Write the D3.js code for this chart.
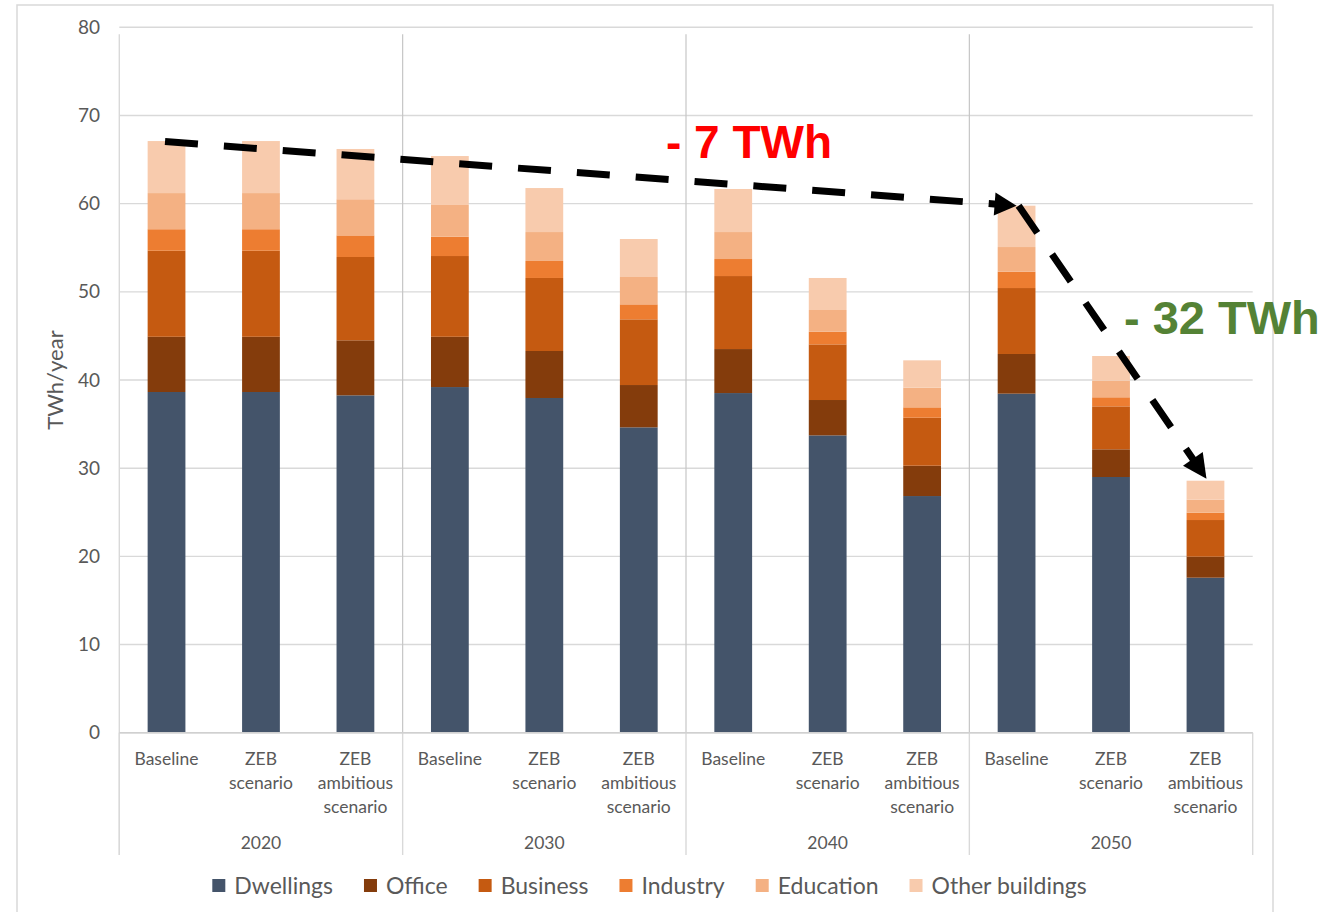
<!DOCTYPE html>
<html>
<head>
<meta charset="utf-8">
<script src="https://cdn.jsdelivr.net/npm/d3@7/dist/d3.min.js"></script>
<style>
  html, body { margin: 0; padding: 0; background: #fff; }
  svg { display: block; }
</style>
</head>
<body>
<svg id="chart" width="1322" height="912"></svg>
<script>
// ---------- DATA ----------
const years = ["2020", "2030", "2040", "2050"];
const scenarioLines = [["Baseline"], ["ZEB", "scenario"], ["ZEB", "ambitious", "scenario"]];
const seriesNames = ["Dwellings", "Office", "Business", "Industry", "Education", "Other buildings"];
const seriesColors = ["#44546a", "#843c0c", "#c55a11", "#ed7d31", "#f4b183", "#f8cbad"];

const dwellings = [38.64, 38.64, 38.26, 39.2, 37.96, 34.63, 38.52, 33.72, 26.84, 38.45, 29.0, 17.58];
const office    = [6.26, 6.26, 6.24, 5.7, 5.33, 4.8, 4.99, 4.01, 3.44, 4.5, 3.14, 2.38];
const business  = [9.76, 9.76, 9.45, 9.16, 8.28, 7.45, 8.28, 6.31, 5.44, 7.48, 4.87, 4.16];
const industry  = [2.44, 2.44, 2.45, 2.19, 1.93, 1.7, 1.93, 1.44, 1.18, 1.85, 1.03, 0.83];
const education = [4.1, 4.1, 4.1, 3.6, 3.28, 3.1, 3.06, 2.46, 2.23, 2.8, 1.88, 1.47];
const otherBldg = [5.9, 5.9, 5.7, 5.55, 4.99, 4.31, 4.88, 3.63, 3.1, 4.69, 2.8, 2.16];

const yTicks = [0, 10, 20, 30, 40, 50, 60, 70, 80];
const yTitle = "TWh/year";
const annot1 = "- 7 TWh";
const annot2 = "- 32 TWh";

// ---------- BUILD ----------
const seriesValues = [dwellings, office, business, industry, education, otherBldg];
const rows = dwellings.map((_, i) => {
  const r = { idx: i, year: years[Math.floor(i / 3)], scen: i % 3 };
  seriesNames.forEach((s, k) => r[s] = seriesValues[k][i]);
  return r;
});
const totals = rows.map(r => d3.sum(seriesNames, s => r[s]));

const svg = d3.select("#chart");
const plotL = 119.3, plotR = 1252.7, plotT = 27.3, plotB = 732.7;
const textColor = "#595959";
const font = "Lato, 'Open Sans', sans-serif";

// outer border
svg.append("rect").attr("x", 17).attr("y", 5).attr("width", 1256).attr("height", 940)
  .attr("fill", "#fff").attr("stroke", "#d9d9d9").attr("stroke-width", 1.5);

const y = d3.scaleLinear().domain([0, 80]).range([plotB, plotT]);
const x = d3.scaleBand().domain(d3.range(rows.length)).range([plotL, plotR])
  .paddingInner(0.6).paddingOuter(0.3);
const xg = d3.scaleBand().domain(years).range([plotL, plotR]);

// gridlines
svg.append("g").selectAll("line").data(yTicks).join("line")
  .attr("x1", plotL).attr("x2", plotR)
  .attr("y1", d => y(d)).attr("y2", d => y(d))
  .attr("stroke", "#d9d9d9").attr("stroke-width", 1.4);

// group separators inside plot
svg.append("g").selectAll("line").data(years.slice(1)).join("line")
  .attr("x1", d => xg(d)).attr("x2", d => xg(d))
  .attr("y1", plotT + 7).attr("y2", plotB)
  .attr("stroke", "#c6c6c6").attr("stroke-width", 1.2);

// left axis line (plot) and category axis dividers
svg.append("line").attr("x1", plotL).attr("x2", plotL).attr("y1", plotT + 7).attr("y2", 855)
  .attr("stroke", "#d9d9d9").attr("stroke-width", 1.4);
const divX = years.map(d => xg(d)).concat([plotR]);
svg.append("g").selectAll("line").data(divX).join("line")
  .attr("x1", d => d).attr("x2", d => d).attr("y1", plotB).attr("y2", 855)
  .attr("stroke", "#d9d9d9").attr("stroke-width", 1.4);

// stacked bars
const stack = d3.stack().keys(seriesNames)(rows);
svg.append("g").selectAll("g").data(stack).join("g")
  .attr("fill", (d, i) => seriesColors[i])
  .selectAll("rect").data(d => d).join("rect")
  .attr("x", d => x(d.data.idx))
  .attr("width", x.bandwidth())
  .attr("y", d => y(d[1]))
  .attr("height", d => y(d[0]) - y(d[1]));

// axis base line
svg.append("line").attr("x1", plotL).attr("x2", plotR).attr("y1", plotB).attr("y2", plotB)
  .attr("stroke", "#d0d0d0").attr("stroke-width", 1.4);

// y tick labels
svg.append("g").selectAll("text").data(yTicks).join("text")
  .attr("x", 100).attr("y", d => y(d)).attr("dy", "0.35em")
  .attr("text-anchor", "end").attr("font-family", font).attr("font-size", 19)
  .attr("fill", textColor).text(d => d);

// y title
svg.append("text")
  .attr("transform", `translate(63, ${(y(40) + y(30)) / 2 - 44}) rotate(-90)`)
  .attr("text-anchor", "middle").attr("font-family", font).attr("font-size", 22)
  .attr("fill", textColor).text(yTitle);

// category labels
const catG = svg.append("g").attr("font-family", font).attr("font-size", 17.5)
  .attr("fill", textColor).attr("text-anchor", "middle");
rows.forEach(r => {
  const cx = x(r.idx) + x.bandwidth() / 2;
  scenarioLines[r.scen].forEach((ln, j) => {
    catG.append("text").attr("x", cx).attr("y", 765 + j * 24).text(ln);
  });
});
// year labels
catG.selectAll("text.yr").data(years).join("text").attr("class", "yr")
  .attr("x", d => xg(d) + xg.bandwidth() / 2).attr("y", 849).text(d => d);

// legend
const legG = svg.append("g").attr("font-family", font).attr("font-size", 23).attr("fill", textColor);
let lx = 0;
seriesNames.forEach((s, i) => {
  const g = legG.append("g");
  g.append("rect").attr("x", 0).attr("y", -7).attr("width", 13).attr("height", 13).attr("fill", seriesColors[i]);
  const t = g.append("text").attr("x", 22).attr("y", 0).attr("dy", "0.35em").text(s);
  const w = t.node().getComputedTextLength();
  g.attr("transform", `translate(${lx},886)`);
  lx += 22 + w + 31;
});
const legW = lx - 31;
legG.attr("transform", `translate(${649.5 - legW / 2},0)`);

// dashed arrows
function arrow(x1, y1, x2, y2, headLen, headW) {
  const dx = x2 - x1, dy = y2 - y1, L = Math.hypot(dx, dy);
  const ux = dx / L, uy = dy / L;
  const ex = x2 - ux * headLen * 0.9, ey = y2 - uy * headLen * 0.9;
  svg.append("line").attr("x1", x1).attr("y1", y1).attr("x2", ex).attr("y2", ey)
    .attr("stroke", "#000").attr("stroke-width", 7).attr("stroke-dasharray", "33,26");
  const bx = x2 - ux * headLen, by = y2 - uy * headLen;
  const px = -uy * headW / 2, py = ux * headW / 2;
  svg.append("polygon")
    .attr("points", `${x2},${y2} ${bx + px},${by + py} ${bx - px},${by - py}`)
    .attr("fill", "#000");
}
const c0 = x(0) + x.bandwidth() / 2, c9 = x(9) + x.bandwidth() / 2, c11 = x(11) + x.bandwidth() / 2;
arrow(c0 - 1.5, y(totals[0]) + 0.5, c9, y(totals[9]), 22, 23);
arrow(c9 + 2, y(totals[9]), c11 + 1, y(totals[11]) - 2, 24, 24);

// annotations
svg.append("text").attr("x", 666).attr("y", 158).attr("font-family", "'Liberation Sans', Arial, sans-serif")
  .attr("font-weight", "bold").attr("font-size", 46).attr("fill", "#ff0000").text(annot1);
svg.append("text").attr("x", 1124).attr("y", 334).attr("font-family", "'Liberation Sans', Arial, sans-serif")
  .attr("font-weight", "bold").attr("font-size", 47).attr("fill", "#548235").text(annot2);
</script>
</body>
</html>
